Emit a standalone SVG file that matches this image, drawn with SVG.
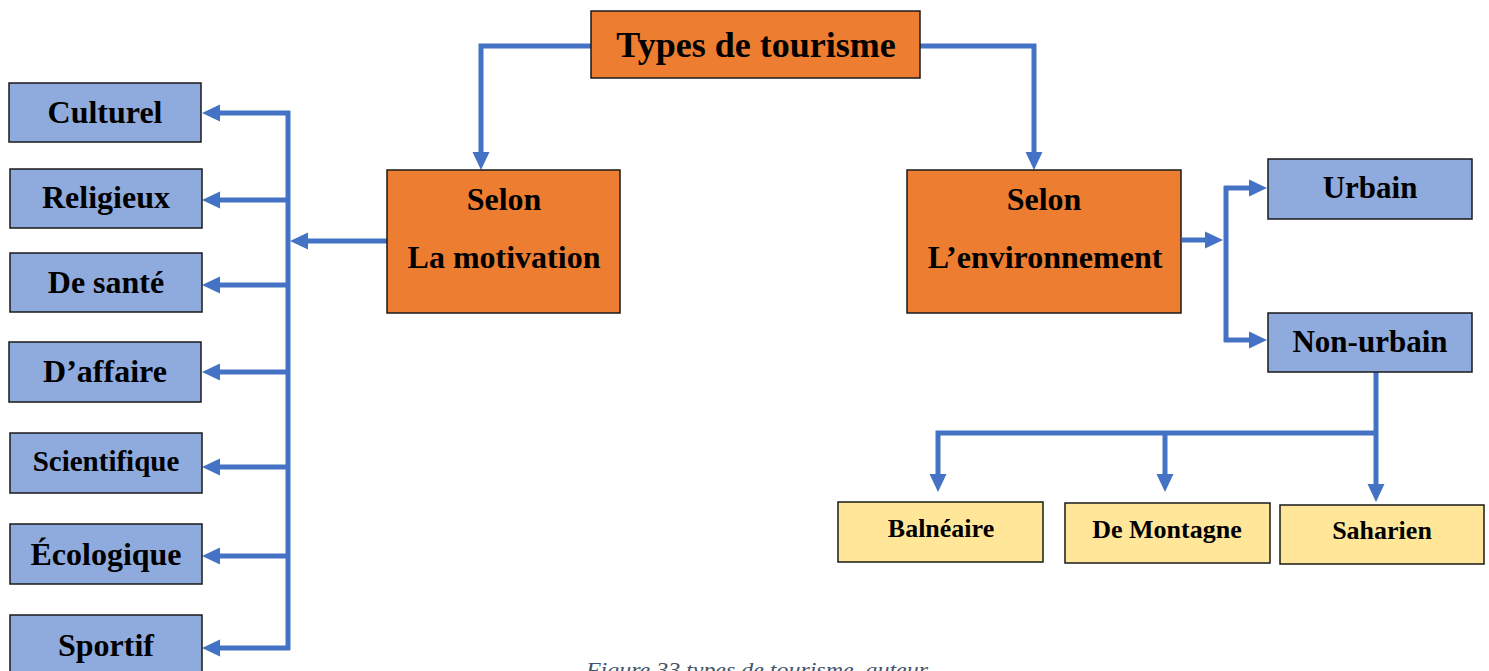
<svg xmlns="http://www.w3.org/2000/svg" width="1489" height="671" viewBox="0 0 1489 671">
<style>
.box{stroke:#1a1a1a;stroke-width:1.5}
.org{fill:#ED7D31}
.blu{fill:#8FAADC}
.yel{fill:#FFE699}
.t{font-family:"Liberation Serif","Times New Roman",serif;font-weight:bold;fill:#000;text-anchor:middle}
.conn path{fill:none;stroke:#4472C4;stroke-width:5;stroke-linejoin:miter}
.arr{marker-end:url(#ah)}
.cap{font-family:"Liberation Serif","Times New Roman",serif;font-style:italic;fill:#44546A;font-size:21px}
</style>
<defs>
<marker id="ah" markerUnits="userSpaceOnUse" markerWidth="19" markerHeight="18" refX="0" refY="8.5" orient="auto" overflow="visible">
<path d="M0,0 L18,8.5 L0,17 Z" fill="#4472C4"/>
</marker>
</defs>

<g class="conn">
<path class="arr" d="M591,46 H481 V152"/>
<path class="arr" d="M920,46 H1034 V152"/>
<path class="arr" d="M387,241 H308"/>
<path d="M288,111 V650"/>
<path class="arr" d="M290,113 H220"/>
<path class="arr" d="M288,200 H220"/>
<path class="arr" d="M288,285 H220"/>
<path class="arr" d="M288,372 H220"/>
<path class="arr" d="M288,467 H220"/>
<path class="arr" d="M288,556 H220"/>
<path class="arr" d="M290,648 H220"/>
<path class="arr" d="M1182,240 H1205"/>
<path d="M1226,186 V342"/>
<path class="arr" d="M1224,188 H1249"/>
<path class="arr" d="M1224,340 H1249"/>
<path class="arr" d="M1376,372 V484"/>
<path class="arr" d="M1376,433 H938 V474"/>
<path class="arr" d="M1165,433 V474"/>
</g>

<g id="types">
<rect class="box org" x="591" y="11" width="329" height="67"/>
<text class="t" x="756" y="57" font-size="36">Types de tourisme</text>
</g>

<g id="motivation">
<rect class="box org" x="387" y="170" width="233" height="143"/>
<text class="t" x="504" y="210" font-size="32">Selon</text>
<text class="t" x="504" y="268" font-size="32">La motivation</text>
</g>

<g id="environnement">
<rect class="box org" x="907" y="170" width="274" height="143"/>
<text class="t" x="1044" y="210" font-size="32">Selon</text>
<text class="t" x="1045" y="268" font-size="32">L’environnement</text>
</g>

<g id="culturel">
<rect class="box blu" x="9" y="83" width="192" height="59"/>
<text class="t" x="105" y="123" font-size="32">Culturel</text>
</g>
<g id="religieux">
<rect class="box blu" x="10" y="169" width="192" height="59"/>
<text class="t" x="106" y="208" font-size="32">Religieux</text>
</g>
<g id="sante">
<rect class="box blu" x="10" y="253" width="192" height="59"/>
<text class="t" x="106" y="293" font-size="32">De santé</text>
</g>
<g id="affaire">
<rect class="box blu" x="9" y="342" width="192" height="60"/>
<text class="t" x="105" y="382" font-size="32">D’affaire</text>
</g>
<g id="scientifique">
<rect class="box blu" x="10" y="433" width="192" height="60"/>
<text class="t" x="106" y="471" font-size="29">Scientifique</text>
</g>
<g id="ecologique">
<rect class="box blu" x="10" y="524" width="192" height="60"/>
<text class="t" x="106" y="565" font-size="32">Écologique</text>
</g>
<g id="sportif">
<rect class="box blu" x="10" y="615" width="192" height="62"/>
<text class="t" x="106" y="656" font-size="32">Sportif</text>
</g>

<g id="urbain">
<rect class="box blu" x="1268" y="159" width="204" height="60"/>
<text class="t" x="1370" y="198" font-size="31">Urbain</text>
</g>
<g id="nonurbain">
<rect class="box blu" x="1268" y="313" width="204" height="59"/>
<text class="t" x="1370" y="352" font-size="31">Non-urbain</text>
</g>

<g id="balneaire">
<rect class="box yel" x="838" y="502" width="205" height="60"/>
<text class="t" x="941" y="537" font-size="26">Balnéaire</text>
</g>
<g id="montagne">
<rect class="box yel" x="1065" y="503" width="205" height="60"/>
<text class="t" x="1167" y="538" font-size="26">De Montagne</text>
</g>
<g id="saharien">
<rect class="box yel" x="1280" y="505" width="204" height="59"/>
<text class="t" x="1382" y="539" font-size="26">Saharien</text>
</g>

<text class="cap" x="586" y="677" textLength="342" lengthAdjust="spacingAndGlyphs">Figure 33 types de tourisme, auteur</text>
</svg>
